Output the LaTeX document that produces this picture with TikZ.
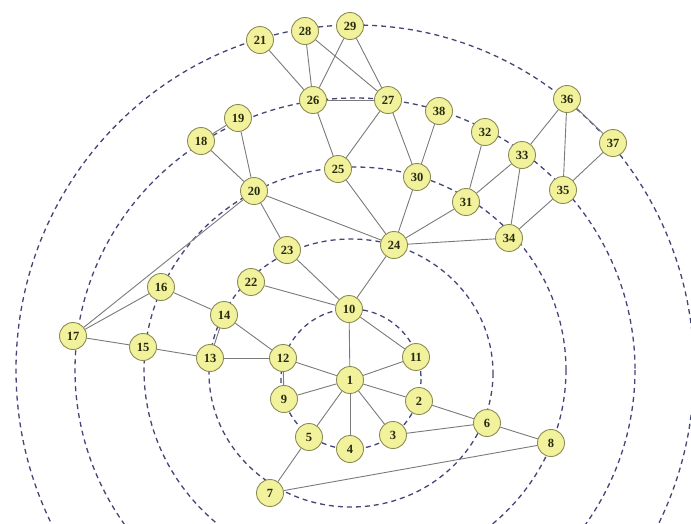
\documentclass[tikz,border=0pt]{standalone}
\usepackage{fontspec}
\setmainfont{Liberation Serif}
\definecolor{nodefill}{HTML}{F2F29C}
\definecolor{nodeline}{HTML}{8C8C55}
\definecolor{ringcol}{HTML}{45457A}
\definecolor{edgecol}{HTML}{7A7A7A}
\definecolor{txtcol}{HTML}{2A2A10}
\tikzset{
  vtx/.style={circle, fill=nodefill, draw=nodeline, line width=0.9pt, minimum size=27pt, inner sep=0pt, font=\fontsize{12.5}{12.5}\selectfont\bfseries, text=txtcol},
  ring/.style={draw=ringcol, line width=1.3pt, dash pattern=on 5pt off 4pt},
  edge/.style={draw=edgecol, line width=0.9pt}
}
\begin{document}
\begin{tikzpicture}[x=1pt,y=-1pt]
\useasboundingbox (0,0) rectangle (691,523);
\fill[white] (0,0) rectangle (691,523);
\begin{scope}
\clip (0,0) rectangle (691,523);
\draw[ring] (351,379) circle [radius=70];
\draw[ring] (351,373) ellipse [x radius=142, y radius=134];
\draw[ring] (355,370) ellipse [x radius=211, y radius=203];
\draw[ring] (355,370) ellipse [x radius=280, y radius=272];
\draw[ring] (355,370) ellipse [x radius=339, y radius=345];
\end{scope}
\coordinate (p1) at (350,380);
\coordinate (p2) at (419,401);
\coordinate (p3) at (393,435);
\coordinate (p4) at (350,449);
\coordinate (p5) at (309,437);
\coordinate (p6) at (487,423);
\coordinate (p7) at (270,493);
\coordinate (p8) at (551,443);
\coordinate (p9) at (284,399);
\coordinate (p10) at (349,309);
\coordinate (p11) at (416,357);
\coordinate (p12) at (283,358);
\coordinate (p13) at (210,358);
\coordinate (p14) at (224,315);
\coordinate (p15) at (143,347);
\coordinate (p16) at (161,287);
\coordinate (p17) at (73,336);
\coordinate (p18) at (201,141);
\coordinate (p19) at (238,118);
\coordinate (p20) at (254,191);
\coordinate (p21) at (260,40);
\coordinate (p22) at (251,282);
\coordinate (p23) at (287,250);
\coordinate (p24) at (394,245);
\coordinate (p25) at (338,169);
\coordinate (p26) at (313,100);
\coordinate (p27) at (388,100);
\coordinate (p28) at (305,31);
\coordinate (p29) at (350,26);
\coordinate (p30) at (417,177);
\coordinate (p31) at (466,202);
\coordinate (p32) at (485,132);
\coordinate (p33) at (522,155);
\coordinate (p34) at (509,238);
\coordinate (p35) at (563,190);
\coordinate (p36) at (567,99);
\coordinate (p37) at (613,143);
\coordinate (p38) at (439,111);
\foreach \i in {1,...,38} {\node[vtx] (n\i) at (p\i) {\i};}
\foreach \a/\b in {21/26,28/26,29/26,28/27,29/27,26/27,26/25,27/25,27/30,38/30,25/24,30/24,
  32/31,33/31,33/34,33/36,36/35,36/37,37/35,35/34,31/24,24/34,20/24,20/23,20/17,19/20,18/20,18/19,
  23/10,22/10,24/10,16/17,16/14,17/15,15/13,14/13,14/12,13/12,12/1,12/9,9/1,10/1,10/11,11/1,
  1/2,1/3,1/4,1/5,5/7,2/6,3/6,6/8,7/8}
  {\draw[edge] (n\a) -- (n\b);}
\end{tikzpicture}
\end{document}
